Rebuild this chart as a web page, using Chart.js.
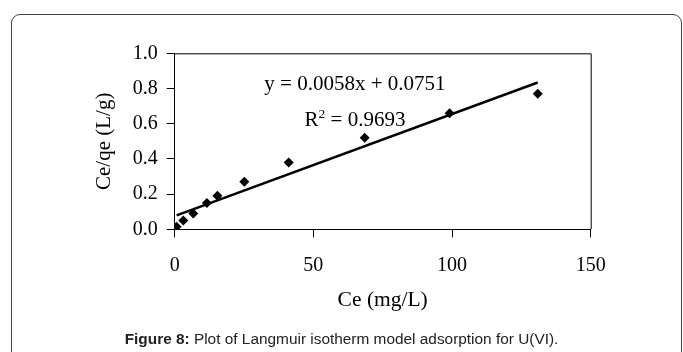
<!DOCTYPE html>
<html>
<head>
<meta charset="utf-8">
<script src="https://cdn.jsdelivr.net/npm/chart.js@4.4.1/dist/chart.umd.min.js"></script>
<style>
  html, body { margin: 0; padding: 0; background: #fff; }
  #wrap { position: relative; width: 683px; height: 352px; overflow: hidden; }
  #frame { position: absolute; left: 11px; top: 14px; width: 671px; height: 400px;
           border: 1px solid #444; border-radius: 9px; box-sizing: border-box; }
  #chart { position: absolute; left: 0; top: 0; }
  #caption { position: absolute; left: 0; width: 683px; top: 330px; text-align: center;
             font-family: "Liberation Sans", Arial, sans-serif; font-size: 15.4px; color: #222; }
</style>
</head>
<body>
<div id="wrap">
  <div id="frame"></div>
  <canvas id="chart" width="683" height="352"></canvas>
  <div id="caption"><b>Figure 8:</b> Plot of Langmuir isotherm model adsorption for U(VI).</div>
</div>
<script>
// Data
const ceValues = [0.7, 3.1, 6.7, 11.6, 15.4, 25.1, 41.1, 68.5, 99.1, 130.9];
const ceQeValues = [0.015, 0.05, 0.09, 0.15, 0.19, 0.27, 0.38, 0.52, 0.66, 0.77];
// Trendline shown in the chart: y = 0.0058x + 0.0751
const trendSlope = 0.0058;
const trendIntercept = 0.0751;
const trendX = [0.7, 130.9];
const xTicks = [0, 50, 100, 150];
const yTicks = [0.0, 0.2, 0.4, 0.6, 0.8, 1.0];
const xTitle = 'Ce (mg/L)';
const yTitle = 'Ce/qe (L/g)';
const eqText = 'y = 0.0058x + 0.0751';
const r2Base = 'R';
const r2Sup = '2';
const r2Rest = ' = 0.9693';

const serif = '"Liberation Serif", "Times New Roman", serif';

const points = ceValues.map((x, i) => ({ x: x, y: ceQeValues[i] }));
const trend = trendX.map(x => ({ x: x, y: trendSlope * x + trendIntercept }));

const boxPlugin = {
  id: 'boxAndText',
  afterDatasetsDraw(chart) {
    const { ctx, chartArea: a, scales } = chart;
    ctx.save();
    ctx.strokeStyle = '#000';
    ctx.lineWidth = 1;
    ctx.beginPath();
    ctx.moveTo(a.left, a.top + 0.5);
    ctx.lineTo(a.right + 0.5, a.top + 0.5);
    ctx.lineTo(a.right + 0.5, a.bottom);
    ctx.stroke();
    ctx.fillStyle = '#000';
    ctx.textBaseline = 'alphabetic';
    const cx = scales.x.getPixelForValue(65);
    const big = '21px ' + serif, small = '13.5px ' + serif;
    ctx.font = big;
    ctx.textAlign = 'center';
    ctx.fillText(eqText, cx, scales.y.getPixelForValue(0.79));
    // R² with a real superscript
    ctx.font = big;
    const wR = ctx.measureText(r2Base).width;
    const wRest = ctx.measureText(r2Rest).width;
    ctx.font = small;
    const wS = ctx.measureText(r2Sup).width;
    const total = wR + wS + wRest;
    let x0 = cx - total / 2;
    const by = scales.y.getPixelForValue(0.588);
    ctx.textAlign = 'left';
    ctx.font = big;
    ctx.fillText(r2Base, x0, by);
    ctx.font = small;
    ctx.fillText(r2Sup, x0 + wR, by - 7.5);
    ctx.font = big;
    ctx.fillText(r2Rest, x0 + wR + wS, by);
    ctx.restore();
  }
};

new Chart(document.getElementById('chart'), {
  type: 'scatter',
  data: {
    datasets: [
      {
        label: 'trend',
        type: 'line',
        data: trend,
        borderColor: '#000',
        borderWidth: 2.5,
        pointRadius: 0,
        fill: false,
        order: 2
      },
      {
        label: 'data',
        data: points,
        pointStyle: 'rectRot',
        pointRadius: 5,
        pointHoverRadius: 5,
        backgroundColor: '#000',
        borderColor: '#000',
        borderWidth: 0,
        order: 1
      }
    ]
  },
  options: {
    responsive: false,
    animation: false,
    events: [],
    layout: { padding: { left: 91.5, top: 53.3, right: 92.3, bottom: 39 } },
    plugins: { legend: { display: false }, tooltip: { enabled: false } },
    scales: {
      x: {
        type: 'linear',
        min: 0, max: 150,
        afterBuildTicks: s => { s.ticks = xTicks.map(v => ({ value: v })); },
        afterFit: s => { s.height = 83.7; },
        grid: { drawOnChartArea: false, tickLength: 8, color: '#000', tickColor: '#000' },
        border: { color: '#000', width: 1 },
        ticks: { color: '#000', padding: 16, font: { family: serif, size: 20 },
                 callback: v => String(v) },
        title: { display: true, text: xTitle, color: '#000', padding: 0,
                 font: { family: serif, size: 21.5 } }
      },
      y: {
        type: 'linear',
        min: 0, max: 1,
        afterBuildTicks: s => { s.ticks = yTicks.map(v => ({ value: v })); },
        afterFit: s => { s.width = 83.2; },
        grid: { drawOnChartArea: false, tickLength: 8, color: '#000', tickColor: '#000' },
        border: { color: '#000', width: 1 },
        ticks: { color: '#000', padding: 9, font: { family: serif, size: 20 },
                 callback: v => Number(v).toFixed(1) },
        title: { display: true, text: yTitle, color: '#000', padding: 0,
                 font: { family: serif, size: 21 } }
      }
    }
  },
  plugins: [boxPlugin]
});
</script>
</body>
</html>
